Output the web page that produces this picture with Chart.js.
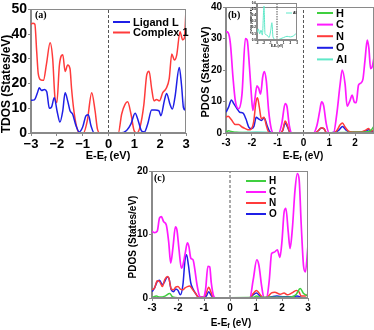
<!DOCTYPE html>
<html>
<head>
<meta charset="utf-8">
<script src="https://cdn.jsdelivr.net/npm/chart.js@4.4.0/dist/chart.umd.min.js"></script>
<style>
html, body { margin: 0; padding: 0; background: #fff; }
#wrap { position: relative; width: 374px; height: 330px; overflow: hidden; }
#wrap canvas { position: absolute; }
</style>
</head>
<body>
<div id="wrap">
  <canvas id="chartA" width="196" height="165" style="left:0;top:0"></canvas>
  <canvas id="chartB" width="188" height="165" style="left:186px;top:0"></canvas>
  <canvas id="chartC" width="206" height="170" style="left:110px;top:160px"></canvas>
  <canvas id="inset" width="50" height="48" style="left:250px;top:0"></canvas>
</div>
<script>
// ---- data (energy in eV, DOS in states/eV) ----
const xTicks = [-3, -2, -1, 0, 1, 2, 3];
const xLabelsA = ['\u22123', '\u22122', '\u22121', '0', '1', '2', '3'];
const xLabelsBC = ['-3', '-2', '-1', '0', '1', '2', '3'];
const yTicksA = [0, 10, 20, 30, 40, 50];
const yTicksB = [0, 10, 20, 30, 40];
const yTicksC = [0, 10, 20];
const yTicksInset = [0, 0.1, 0.2, 0.3, 0.4, 0.5, 0.6];

// (a) total DOS
const ligandL = [[-3,13.2],[-2.87,13.4],[-2.75,16.3],[-2.68,18.3],[-2.59,17.2],[-2.48,17.6],[-2.39,16.7],[-2.29,10],[-2.2,10.6],[-2.1,14.3],[-1.98,8.3],[-1.88,4.4],[-1.77,9],[-1.68,16.3],[-1.58,13],[-1.49,9],[-1.39,7.7],[-1.26,3],[-1.13,0.4],[-1.0,2.4],[-0.87,7],[-0.78,7.4],[-0.68,3],[-0.55,0],[0.45,0],[0.7,1],[0.87,3.7],[1.03,8],[1.15,5],[1.28,0.8],[1.39,0.4],[1.52,3.7],[1.67,9.3],[1.8,9.3],[1.95,9],[2.03,7],[2.16,13],[2.25,16],[2.38,11.6],[2.47,9.7],[2.57,14.3],[2.74,26.5],[2.83,19],[2.9,10.3],[2.96,9.3],[3,17.6]];
const complex1 = [[-3,44],[-2.93,44.4],[-2.85,44],[-2.78,33],[-2.72,24],[-2.62,21.5],[-2.52,21.3],[-2.4,28],[-2.26,36.5],[-2.16,30],[-2.07,14],[-2.0,12.3],[-1.9,27.5],[-1.77,31.7],[-1.68,24.9],[-1.58,27.5],[-1.49,26],[-1.43,18],[-1.34,9],[-1.23,2.4],[-1.13,0],[-0.97,0],[-0.82,5],[-0.65,16.3],[-0.52,9],[-0.43,1.7],[-0.33,0],[0.38,0],[0.51,7.7],[0.64,11.6],[0.74,12.6],[0.87,7.7],[0.99,1],[1.09,0],[1.22,2.4],[1.37,11.6],[1.48,23.5],[1.57,25],[1.67,18],[1.76,13],[1.86,13.6],[1.97,13],[2.1,16.3],[2.23,18],[2.35,22],[2.45,32],[2.55,29.5],[2.64,31.5],[2.77,41],[2.87,37.7],[2.94,38.4],[3,50]];

// (b) projected DOS, complex 1
const bH = [[-3,0.3],[-2.9,0.7],[-2.8,0.5],[-2.6,0.2],[-2,0.1],[-1,0.1],[0,0.1],[1,0.1],[2,0.2],[2.4,0.3],[2.55,0.5],[2.65,1.2],[2.73,2.2]];
const bC = [[-3,32.2],[-2.92,31.9],[-2.83,28.4],[-2.73,17.7],[-2.64,10.3],[-2.51,7.7],[-2.38,12.4],[-2.25,30],[-2.18,29.5],[-2.09,20.8],[-2.02,12.4],[-1.96,7.2],[-1.89,10.3],[-1.8,15],[-1.74,14.3],[-1.66,12.4],[-1.58,17.7],[-1.52,19.5],[-1.44,16.6],[-1.35,7.2],[-1.25,1.4],[-1.16,0],[-0.96,0],[-0.84,3],[-0.71,9.3],[-0.64,8.4],[-0.55,2.4],[-0.45,0],[0.39,0],[0.52,2.4],[0.62,6.6],[0.7,9.9],[0.78,8.7],[0.88,3],[1.0,0],[1.16,0],[1.29,6.1],[1.42,15.6],[1.5,20],[1.61,15.6],[1.69,8.5],[1.8,10.3],[1.88,12],[1.97,9.8],[2.04,9.6],[2.13,15.2],[2.21,15.8],[2.3,17],[2.38,23],[2.47,29.5],[2.53,27],[2.6,20.4],[2.66,21],[2.73,24]];
const bN = [[-3,5],[-2.92,5.3],[-2.79,4.2],[-2.64,2.7],[-2.51,2.7],[-2.38,1.9],[-2.25,1.4],[-2.12,1],[-2.02,1.3],[-1.93,3.5],[-1.84,9.8],[-1.78,11.2],[-1.71,8.2],[-1.63,4.5],[-1.53,5],[-1.44,2.4],[-1.35,0.3],[-1.2,0],[-0.9,0],[-0.8,1],[-0.71,3.8],[-0.62,2.4],[-0.51,0],[0.45,0],[0.58,0.8],[0.69,1.7],[0.79,1.4],[0.9,0],[1.15,0],[1.29,0.8],[1.42,2.6],[1.51,3.2],[1.61,1.9],[1.74,0.6],[1.9,0.3],[2.2,0.3],[2.39,0.8],[2.52,1.4],[2.62,0.6],[2.73,0.9]];
const bO = [[-3,6.6],[-2.9,8.2],[-2.79,10.5],[-2.7,9.3],[-2.57,7.7],[-2.47,6.6],[-2.34,6.3],[-2.23,4.5],[-2.12,1.9],[-2.02,1.4],[-1.92,2.1],[-1.83,5],[-1.74,4.5],[-1.63,4],[-1.52,4.8],[-1.41,2.4],[-1.32,0.6],[-1.2,0],[-0.9,0],[-0.8,0.8],[-0.71,3.2],[-0.62,1.9],[-0.51,0],[0.45,0],[0.58,0.8],[0.69,1.6],[0.79,1.4],[0.9,0],[1.23,0.3],[1.38,1],[1.51,2.1],[1.64,1],[1.81,0.2],[2.13,0.2],[2.39,0.6],[2.52,1],[2.62,0.6],[2.73,0.4]];
const bAl = [[-3,0.2],[-2.5,0.15],[-1.8,0.3],[-1,0.1],[0,0.05],[1,0.05],[2,0.1],[2.73,0.3]];
const insetAl = [[-3,0.12],[-2.8,0.18],[-2.6,0.1],[-2.4,0.16],[-2.2,0.08],[-1.95,0.55],[-1.8,0.1],[-1.5,0.08],[-1.2,0.04],[-0.95,0.15],[-0.77,0.28],[-0.6,0.05],[-0.3,0.01],[0,0],[0.5,0.02],[1,0.04],[1.5,0.06],[2,0.05],[2.5,0.07],[3,0.12]];

// (c) projected DOS, ligand L
const cH = [[-3,0.1],[-2.83,0.3],[-2.7,0.15],[-2.5,0.3],[-2.32,0.7],[-2.2,0.15],[-2,0.05],[-1,0.05],[0,0.05],[0.9,0.1],[1.02,0.3],[1.15,0.1],[2,0.1],[2.4,0.2],[2.55,0.6],[2.7,1.5],[2.83,0.7],[3,0.3]];
const cC = [[-3,10.5],[-2.9,10.3],[-2.8,10.5],[-2.71,12.6],[-2.64,12.8],[-2.55,12],[-2.45,11.5],[-2.36,8.9],[-2.28,5.5],[-2.19,8.1],[-2.1,11.2],[-2.04,10.7],[-1.96,7.6],[-1.87,4.7],[-1.81,5.2],[-1.72,7.1],[-1.64,8.7],[-1.58,8.1],[-1.51,6.3],[-1.42,6],[-1.36,4.7],[-1.27,2.1],[-1.17,0.3],[-1.04,0],[-0.94,1.3],[-0.85,5],[-0.78,4.9],[-0.72,2.4],[-0.63,0.3],[-0.55,0],[0.76,0],[0.89,2.8],[1.03,6],[1.11,5.2],[1.22,1.8],[1.31,0],[1.41,0],[1.51,2.8],[1.6,7],[1.7,7.2],[1.82,7.6],[1.92,6.4],[2.0,9],[2.08,13.5],[2.15,14.1],[2.24,10.4],[2.31,7.8],[2.4,11],[2.5,17],[2.59,19.6],[2.66,18.6],[2.74,11.5],[2.83,5],[2.9,4.1],[3,8.3]];
const cN = [[-3,1.3],[-2.9,1.6],[-2.8,2.7],[-2.71,2.6],[-2.6,1.8],[-2.51,2.9],[-2.41,3.4],[-2.35,3.1],[-2.26,1.4],[-2.17,1.3],[-2.09,1.7],[-2.0,1.8],[-1.91,1.4],[-1.81,1.3],[-1.73,1.6],[-1.64,1.8],[-1.55,1.9],[-1.45,1.4],[-1.32,0.7],[-1.2,0.1],[-1.0,0.1],[-0.91,0.8],[-0.82,1.7],[-0.74,1],[-0.63,0],[0.75,0],[0.89,0.7],[1.02,1.2],[1.15,0.6],[1.28,0],[1.45,0.2],[1.6,0.8],[1.72,0.9],[1.93,0.6],[2.08,0.8],[2.2,0.5],[2.38,0.8],[2.55,1.2],[2.65,1],[2.74,0.3],[2.9,0.3],[3,0.7]];
const cO = [[-3,1],[-2.9,1.6],[-2.8,2.6],[-2.71,2.8],[-2.6,2.1],[-2.51,2.6],[-2.41,3.3],[-2.35,3.1],[-2.26,1.3],[-2.17,1],[-2.09,1.4],[-2.0,1.2],[-1.91,0.5],[-1.81,2.1],[-1.73,6],[-1.67,6.8],[-1.6,5.2],[-1.51,2.4],[-1.42,1.4],[-1.32,0.7],[-1.2,0.1],[-1.0,0.1],[-0.91,0.3],[-0.82,1],[-0.74,0.5],[-0.63,0],[0.75,0],[0.89,0.5],[1.02,0.8],[1.15,0.3],[1.28,0],[1.6,0.2],[1.8,0.3],[2.06,0.2],[2.3,0.2],[2.58,0.3],[2.74,0.1],[3,0]];

// ---- colours ----
const cBlue = '#1f1fe6', cRed = '#ff3b3b', cMag = '#ff1aff', cGreen = '#3fcf3f', cAqua = '#5fe8c8';
const sansFont = '"Liberation Sans", Arial, sans-serif';

Chart.defaults.font.family = sansFont;
Chart.defaults.color = '#000';

// frame, panel tag, legend, axis titles (x title has a subscript f)
const decor = {
  id: 'decor',
  afterDraw(chart, args, o) {
    const { ctx, chartArea: a } = chart;
    ctx.save();
    ctx.strokeStyle = '#8a8a8a';
    ctx.lineWidth = 1;
    ctx.strokeRect(Math.round(a.left) - 0.5, Math.round(a.top) + 0.5, Math.round(a.right - a.left), Math.round(a.bottom - a.top) - 1);
    ctx.fillStyle = '#000';
    ctx.textBaseline = 'middle';
    ctx.textAlign = 'left';
    if (o.tag) {
      ctx.font = 'bold ' + o.tag.size + 'px "Liberation Serif", serif';
      ctx.fillText(o.tag.text, o.tag.x, o.tag.y);
    }
    if (o.legend) {
      const L = o.legend;
      ctx.font = 'bold ' + L.size + 'px ' + sansFont;
      let row = 0;
      chart.data.datasets.forEach(ds => {
        if (!ds.label) return;
        const y = L.y + row * L.step;
        ctx.strokeStyle = ds.borderColor;
        ctx.lineWidth = L.lw;
        ctx.beginPath();
        ctx.moveTo(L.x, y);
        ctx.lineTo(L.x + L.len, y);
        ctx.stroke();
        ctx.fillText(ds.label, L.x + L.len + L.gap, y + 0.5);
        row++;
      });
    }
    if (o.yTitle) {
      const t = o.yTitle;
      ctx.save();
      ctx.translate(t.x, t.y);
      ctx.rotate(-Math.PI / 2);
      ctx.textAlign = 'center';
      ctx.font = 'bold ' + t.size + 'px ' + sansFont;
      ctx.fillText(t.text, 0, 0);
      ctx.restore();
    }
    if (o.xTitle) {
      const t = o.xTitle;
      const big = 'bold ' + t.size + 'px ' + sansFont;
      const small = 'bold ' + (t.size * 0.7).toFixed(1) + 'px ' + sansFont;
      ctx.font = big;
      const w1 = ctx.measureText('E-E').width, w3 = ctx.measureText(' (eV)').width;
      ctx.font = small;
      const w2 = ctx.measureText('f').width;
      const x = t.x - (w1 + w2 + w3) / 2;
      ctx.font = big; ctx.fillText('E-E', x, t.y);
      ctx.font = small; ctx.fillText('f', x + w1, t.y + t.size * 0.3);
      ctx.font = big; ctx.fillText(' (eV)', x + w1 + w2, t.y);
    }
    ctx.restore();
  }
};

function buildPanel(id, p) {
  const sets = p.series.map(s => ({
    label: s.label,
    data: s.pts.map(([x, y]) => ({ x, y })),
    borderColor: s.color,
    backgroundColor: s.color,
    borderWidth: s.w || p.lineW,
    pointRadius: 0,
    fill: false,
    cubicInterpolationMode: 'monotone'
  }));
  // Fermi level marker
  sets.push({
    label: '',
    data: [{ x: 0, y: p.yMin }, { x: 0, y: p.yMax }],
    borderColor: '#555', borderWidth: 1, borderDash: p.dash || [3, 2], pointRadius: 0
  });
  return new Chart(document.getElementById(id), {
    type: 'line',
    data: { datasets: sets },
    options: {
      responsive: false,
      animation: false,
      events: [],
      layout: { padding: { top: p.padTop, right: p.padRight, left: 0, bottom: 0 } },
      plugins: {
        legend: { display: false },
        tooltip: { enabled: false },
        decor: { tag: p.tag, legend: p.legend, xTitle: p.xTitle, yTitle: p.yTitle }
      },
      scales: {
        x: {
          type: 'linear',
          min: p.xMin, max: p.xMax,
          afterFit: s => { s.height = p.xAxisH; },
          afterBuildTicks: s => { s.ticks = p.xTicks.filter(v => v <= p.xMax).map(v => ({ value: v })); },
          ticks: { callback: (v, i) => p.xLabels[i], font: { size: p.xTickSize, weight: 'bold' }, padding: p.tickPad, maxRotation: 0, autoSkip: false },
          grid: { drawOnChartArea: false, tickLength: p.tickLen, color: '#8a8a8a' },
          border: { color: '#8a8a8a' }
        },
        y: {
          min: p.yMin, max: p.yMax,
          afterFit: s => { s.width = p.yAxisW; },
          afterBuildTicks: s => { s.ticks = p.yTicks.map(v => ({ value: v })); },
          ticks: { callback: (v, i) => p.yLabels[i], font: { size: p.yTickSize, weight: 'bold' }, padding: p.tickPad, autoSkip: false },
          grid: { drawOnChartArea: false, tickLength: p.tickLen, color: '#8a8a8a' },
          border: { color: '#8a8a8a' }
        }
      }
    },
    plugins: [decor]
  });
}

// (a)
buildPanel('chartA', {
  series: [
    { label: 'Ligand L', pts: ligandL, color: cBlue },
    { label: 'Complex 1', pts: complex1, color: cRed }
  ],
  lineW: 1.5,
  xMin: -3, xMax: 3, yMin: 0, yMax: 50,
  xTicks: xTicks, xLabels: xLabelsA,
  yTicks: yTicksA, yLabels: yTicksA.map(String),
  padTop: 7, padRight: 10, yAxisW: 31, xAxisH: 32,
  xTickSize: 13, yTickSize: 14, tickPad: 1, tickLen: 3,
  yTitle: { text: 'TDOS (States/eV)', size: 12, x: 6.5, y: 84 },
  tag: { text: '(a)', size: 10, x: 35, y: 15 },
  legend: { x: 113, y: 22, step: 10.5, len: 17, gap: 3, size: 11, lw: 2 },
  xTitle: { size: 11, x: 108, y: 156 }
});

// (b)
buildPanel('chartB', {
  series: [
    { label: 'H', pts: bH, color: cGreen },
    { label: 'C', pts: bC, color: cMag, w: 1.7 },
    { label: 'N', pts: bN, color: cRed },
    { label: 'O', pts: bO, color: cBlue },
    { label: 'Al', pts: bAl, color: cAqua }
  ],
  lineW: 1.5,
  xMin: -3, xMax: 2.73, yMin: 0, yMax: 40,
  xTicks: xTicks, xLabels: xLabelsBC,
  yTicks: yTicksB, yLabels: yTicksB.map(String),
  padTop: 6, padRight: 0, yAxisW: 40, xAxisH: 32,
  xTickSize: 10, yTickSize: 10, tickPad: 1, tickLen: 3,
  yTitle: { text: 'PDOS (States/eV)', size: 11, x: 20, y: 72 },
  tag: { text: '(b)', size: 10, x: 42, y: 15 },
  legend: { x: 131, y: 13, step: 11.6, len: 16, gap: 3, size: 11, lw: 2 },
  xTitle: { size: 10, x: 117, y: 156 }
});

// (c)
buildPanel('chartC', {
  series: [
    { label: 'H', pts: cH, color: cGreen },
    { label: 'C', pts: cC, color: cMag, w: 1.7 },
    { label: 'N', pts: cN, color: cRed },
    { label: 'O', pts: cO, color: cBlue }
  ],
  lineW: 1.5,
  xMin: -3, xMax: 3, yMin: 0, yMax: 20,
  xTicks: xTicks, xLabels: xLabelsBC,
  yTicks: yTicksC, yLabels: yTicksC.map(String),
  padTop: 11, padRight: 8, yAxisW: 42, xAxisH: 32,
  xTickSize: 10, yTickSize: 10, tickPad: 1, tickLen: 3,
  yTitle: { text: 'PDOS (States/eV)', size: 10, x: 23, y: 77 },
  tag: { text: '(c)', size: 10, x: 44, y: 18 },
  legend: { x: 136, y: 21, step: 11, len: 20, gap: 3, size: 10, lw: 2 },
  xTitle: { size: 10, x: 121, y: 163 }
});

// inset of (b): Al projected DOS
buildPanel('inset', {
  series: [{ label: 'Al', pts: insetAl, color: cAqua }],
  lineW: 1,
  xMin: -3, xMax: 3, yMin: 0, yMax: 0.6,
  xTicks: xTicks, xLabels: xLabelsBC,
  yTicks: yTicksInset, yLabels: yTicksInset.map(v => v.toFixed(1)),
  padTop: 3, padRight: 3, yAxisW: 7, xAxisH: 8,
  xTickSize: 3, yTickSize: 3, tickPad: 0, tickLen: 1,
  yTitle: { text: 'PDOS (States/eV)', size: 3, x: 1.5, y: 21 },
  dash: [1.5, 1],
  legend: { x: 36, y: 13, step: 4, len: 6, gap: 1, size: 3.5, lw: 1 },
  xTitle: { size: 3, x: 27, y: 46 }
});
</script>
</body>
</html>
